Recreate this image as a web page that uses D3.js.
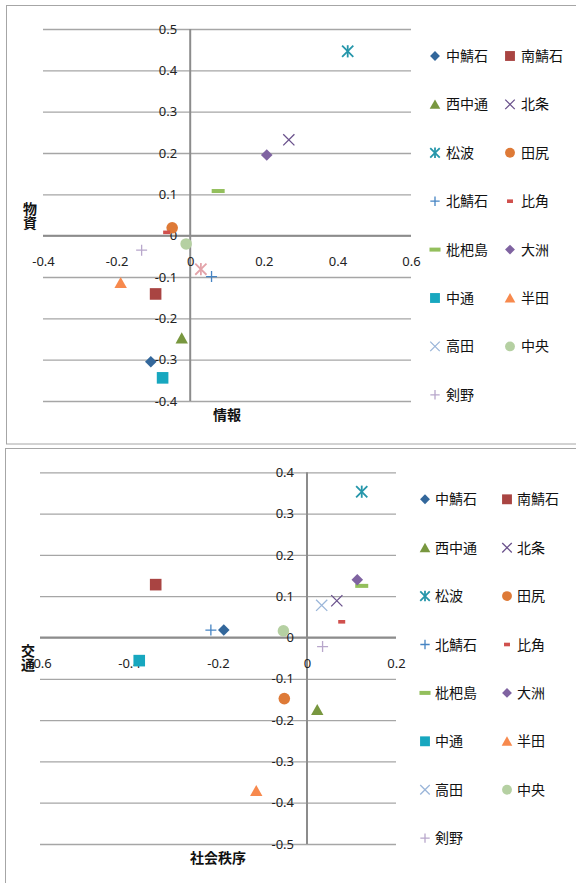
<!DOCTYPE html>
<html>
<head>
<meta charset="utf-8">
<script src="https://cdn.jsdelivr.net/npm/d3@7"></script>
<style>
  body { margin: 0; background: #fff; }
  svg text { font-family: "Noto Sans", "Noto Sans CJK JP", sans-serif; }
</style>
</head>
<body>
<div id="charts"></div>
<script>
// region names, in legend order
var regions = ["中鯖石", "南鯖石", "西中通", "北条", "松波", "田尻", "北鯖石", "比角",
               "枇杷島", "大洲", "中通", "半田", "高田", "中央", "剣野"];

// chart 1 : 情報 (x) vs 物資 (y)
var infoX  = [-0.107, -0.094, -0.023, 0.268, 0.428, -0.049, 0.058, -0.064,
               0.076, 0.208, -0.075, -0.189, 0.029, -0.011, -0.132];
var goodsY = [-0.305, -0.141, -0.248, 0.232, 0.446, 0.019, -0.099, 0.008,
               0.108, 0.195, -0.344, -0.114, -0.081, -0.020, -0.035];

// chart 2 : 社会秩序 (x) vs 交通 (y)
var orderX   = [-0.187, -0.340, 0.023, 0.067, 0.123, -0.051, -0.216, 0.078,
                 0.123, 0.113, -0.377, -0.114, 0.033, -0.053, 0.035];
var trafficY = [0.018, 0.128, -0.175, 0.089, 0.353, -0.148, 0.018, 0.038,
                0.125, 0.140, -0.056, -0.371, 0.078, 0.016, -0.022];

var xTicks1 = [-0.4, -0.2, 0, 0.2, 0.4, 0.6];
var yTicks1 = [0.5, 0.4, 0.3, 0.2, 0.1, 0, -0.1, -0.2, -0.3, -0.4];
var xTicks2 = [-0.6, -0.4, -0.2, 0, 0.2];
var yTicks2 = [0.4, 0.3, 0.2, 0.1, 0, -0.1, -0.2, -0.3, -0.4, -0.5];

// marker type + colour per region (excel style)
var markers = ["diamond", "square", "triangle", "x", "star", "circle", "plus", "smalldash",
               "dash", "diamond", "square", "triangle", "x", "circle", "plus"];
var colors = ["#33679b", "#a94442", "#78973f", "#6a518c", "#2596aa", "#de7a37", "#4684c3", "#d0504d",
              "#93bf5c", "#7f63a1", "#17a7bf", "#f7894d", "#9bb6d9", "#b5d0a2", "#b8a7cb"];

var W = 576, H = 883;
var svg = d3.select("#charts").append("svg")
  .attr("width", W)
  .attr("height", H);

// draw a marker path at 0,0 ; s = scale
function drawMarker(g, type, color, s) {
  var r = 5.8 * s;
  if (type == "diamond") {
    g.append("path").attr("d", "M0," + (-r) + "L" + r + ",0L0," + r + "L" + (-r) + ",0Z").attr("fill", color);
  } else if (type == "square") {
    g.append("rect").attr("x", -r).attr("y", -r).attr("width", 2 * r).attr("height", 2 * r).attr("fill", color);
  } else if (type == "triangle") {
    g.append("path").attr("d", "M0," + (-r) + "L" + (r + 0.4) + "," + (r - 0.5) + "L" + (-r - 0.4) + "," + (r - 0.5) + "Z").attr("fill", color);
  } else if (type == "circle") {
    g.append("circle").attr("r", r).attr("fill", color);
  } else if (type == "x" || type == "star") {
    var a = 5.6 * s;
    g.append("path").attr("d", "M" + (-a) + "," + (-a) + "L" + a + "," + a + "M" + a + "," + (-a) + "L" + (-a) + "," + a)
      .attr("stroke", color).attr("stroke-width", type == "star" ? 1.8 : 1.3).attr("fill", "none");
    if (type == "star") {
      g.append("path").attr("d", "M0," + (-a - 0.5) + "L0," + (a + 0.5)).attr("stroke", color).attr("stroke-width", 1.8);
    }
  } else if (type == "plus") {
    var p = 5.5 * s;
    g.append("path").attr("d", "M" + (-p) + ",0L" + p + ",0M0," + (-p) + "L0," + p)
      .attr("stroke", color).attr("stroke-width", 1.3).attr("fill", "none");
  } else if (type == "dash") {
    g.append("rect").attr("x", -6.5 * s).attr("y", -2).attr("width", 13 * s).attr("height", 4).attr("fill", color);
  } else if (type == "smalldash") {
    g.append("rect").attr("x", -3.5 * s).attr("y", -1.8).attr("width", 7 * s).attr("height", 3.6).attr("fill", color);
  }
}

function buildChart(cfg) {
  var root = svg.append("g");

  // chart frame (runs off the page to the right / bottom like the screenshot)
  root.append("rect")
    .attr("x", cfg.frame[0]).attr("y", cfg.frame[1])
    .attr("width", cfg.frame[2]).attr("height", cfg.frame[3])
    .attr("fill", "#fff").attr("stroke", "#a6a6a6").attr("stroke-width", 1);

  var x = d3.scaleLinear().domain(cfg.xDomain).range([cfg.left, cfg.right]);
  var y = d3.scaleLinear().domain(cfg.yDomain).range([cfg.bottom, cfg.top]);

  // gridlines
  var grid = root.append("g")
    .attr("transform", "translate(" + cfg.left + ",0)")
    .call(d3.axisLeft(y).tickValues(cfg.yTicks).tickSize(-(cfg.right - cfg.left)).tickFormat(""));
  grid.select(".domain").remove();
  grid.selectAll(".tick line").attr("stroke", "#a6a6a6").attr("stroke-width", 1.3);

  // axis lines through 0
  root.append("line")
    .attr("x1", cfg.left).attr("x2", cfg.right)
    .attr("y1", y(0)).attr("y2", y(0))
    .attr("stroke", "#8c8c8c").attr("stroke-width", 2);
  root.append("line")
    .attr("x1", x(0)).attr("x2", x(0))
    .attr("y1", y(cfg.yDomain[1])).attr("y2", y(cfg.yDomain[0]))
    .attr("stroke", "#8c8c8c").attr("stroke-width", 2);

  var fmt = function (d) { return String(d); };

  // y tick labels next to the vertical axis
  var ya = root.append("g")
    .attr("transform", "translate(" + x(0) + ",0)")
    .call(d3.axisLeft(y).tickValues(cfg.yTicks).tickSize(0).tickPadding(13).tickFormat(fmt));
  ya.select(".domain").remove();
  ya.selectAll("text").attr("font-size", 13).attr("fill", "#222")
    .style("font-family", "Noto Sans");

  // x tick labels below the horizontal axis
  var xa = root.append("g")
    .attr("transform", "translate(0," + y(0) + ")")
    .call(d3.axisBottom(x).tickValues(cfg.xTicks).tickSize(0).tickPadding(21).tickFormat(fmt));
  xa.select(".domain").remove();
  xa.selectAll("text").attr("font-size", 13).attr("fill", "#222")
    .style("font-family", "Noto Sans");

  // points
  regions.forEach(function (name, i) {
    var type = markers[i], color = colors[i];
    if (cfg.override && cfg.override[name]) {
      type = cfg.override[name].type;
      color = cfg.override[name].color;
    }
    var g = root.append("g")
      .attr("transform", "translate(" + x(cfg.xs[i]) + "," + y(cfg.ys[i]) + ")");
    drawMarker(g, type, color, 1);
  });

  // axis titles
  root.append("text")
    .attr("x", cfg.xTitlePos[0]).attr("y", cfg.xTitlePos[1])
    .attr("text-anchor", "middle")
    .attr("font-size", 14).attr("font-weight", "bold").attr("fill", "#111")
    .style("font-family", "Noto Sans CJK JP")
    .text(cfg.xTitle);

  // vertical title, characters stacked upright
  root.append("text")
    .attr("x", cfg.yTitlePos[0]).attr("y", cfg.yTitlePos[1])
    .attr("text-anchor", "middle")
    .style("writing-mode", "vertical-rl")
    .style("text-orientation", "upright")
    .attr("font-size", 14).attr("font-weight", "bold").attr("fill", "#111")
    .style("font-family", "Noto Sans CJK JP")
    .text(cfg.yTitle);

  // legend, two columns
  regions.forEach(function (name, i) {
    var col = i % 2, row = Math.floor(i / 2);
    var lx = cfg.legend.markerX[col];
    var ly = cfg.legend.y0 + row * cfg.legend.step;
    var g = root.append("g").attr("transform", "translate(" + lx + "," + ly + ")");
    drawMarker(g, markers[i], colors[i], 0.85);
    root.append("text")
      .attr("x", cfg.legend.textX[col]).attr("y", ly + 5)
      .attr("font-size", 14).attr("fill", "#111")
      .style("font-family", "Noto Sans CJK JP")
      .text(name);
  });
}

buildChart({
  frame: [6.5, 5.5, 640, 438.5],
  xDomain: [-0.4, 0.6], yDomain: [-0.4, 0.5],
  left: 43, right: 411, top: 29, bottom: 401,
  xTicks: xTicks1, yTicks: yTicks1,
  xs: infoX, ys: goodsY,
  xTitle: "情報", xTitlePos: [227, 420],
  yTitle: "物資", yTitlePos: [30, 216],
  legend: { markerX: [435, 510], textX: [446, 521], y0: 56, step: 48.4 },
  override: { "高田": { type: "star", color: "#e3a3a9" } }
});

buildChart({
  frame: [5.5, 448.5, 640, 500],
  xDomain: [-0.6, 0.2], yDomain: [-0.5, 0.4],
  left: 40, right: 396, top: 472.3, bottom: 844,
  xTicks: xTicks2, yTicks: yTicks2,
  xs: orderX, ys: trafficY,
  xTitle: "社会秩序", xTitlePos: [218, 863],
  yTitle: "交通", yTitlePos: [28, 658],
  legend: { markerX: [425, 507], textX: [435, 517], y0: 499.3, step: 48.4 }
});
</script>
</body>
</html>
